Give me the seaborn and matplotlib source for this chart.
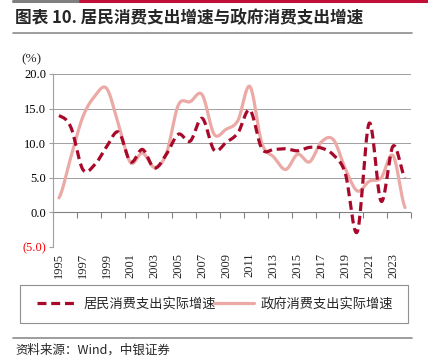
import numpy as np
import pandas as pd
import matplotlib
matplotlib.use("Agg")
import matplotlib.pyplot as plt
import seaborn as sns
from matplotlib.ticker import FixedLocator, FuncFormatter

# chart data
years = list(range(1995, 2025))
household = [14.0, 12.3, 6.2, 6.9, 9.5, 11.6, 7.3, 9.1, 6.4, 8.4,
             11.3, 10.3, 13.6, 9.0, 10.1, 11.5, 14.8, 9.2, 9.1, 9.2,
             8.9, 9.4, 9.3, 8.3, 5.6, -2.8, 12.9, 1.6, 9.6, 5.0]
government = [2.1, 8.0, 13.8, 16.8, 17.9, 12.6, 7.2, 8.6, 6.5, 8.5,
              15.5, 16.0, 17.0, 11.3, 12.0, 13.3, 18.2, 10.0, 8.0, 6.2,
              8.4, 7.3, 10.2, 10.5, 6.3, 3.1, 4.5, 5.0, 8.2, 0.7]
yticks = [-5, 0, 5, 10, 15, 20]
label_hh = "居民消费支出实际增速"
label_gov = "政府消费支出实际增速"

DARK_RED = "#A8092A"
PINK = "#EBAAA6"
GRID = "#A0A0A0"


def smooth(y, steps=20):
    # catmull-rom style curve through the points, like excel's smoothed line
    y = np.asarray(y, dtype=float)
    x = np.arange(len(y), dtype=float)
    yp = np.concatenate([[y[0]], y, [y[-1]]])
    xs, ys = [], []
    for i in range(len(y) - 1):
        p0, p1, p2, p3 = yp[i], yp[i + 1], yp[i + 2], yp[i + 3]
        m1 = (p2 - p0) / 2
        m2 = (p3 - p1) / 2
        t = np.linspace(0, 1, steps, endpoint=False)
        h00 = 2 * t**3 - 3 * t**2 + 1
        h10 = t**3 - 2 * t**2 + t
        h01 = -2 * t**3 + 3 * t**2
        h11 = t**3 - t**2
        xs.append(x[i] + t)
        ys.append(h00 * p1 + h10 * m1 + h01 * p2 + h11 * m2)
    xs.append([x[-1]])
    ys.append([y[-1]])
    return np.concatenate(xs), np.concatenate(ys)


sns.set_theme(style="white")
plt.rcParams["font.family"] = ["Liberation Serif", "Noto Sans CJK SC", "DejaVu Sans"]
plt.rcParams["axes.unicode_minus"] = False

fig = plt.figure(figsize=(4.28, 3.63), dpi=100)
ax = fig.add_axes([53 / 428, 1 - 247 / 363, 358 / 428, 173 / 363])

gx, gy = smooth(government)
hx, hy = smooth(household)
sns.lineplot(x=gx, y=gy, ax=ax, color=PINK, linewidth=2.3, label=label_gov,
             sort=False, zorder=2)
sns.lineplot(x=hx, y=hy, ax=ax, color=DARK_RED, linewidth=2.3, label=label_hh,
             sort=False, zorder=3, linestyle=(0, (2.8, 1.5)))

ax.set_xlim(-0.5, len(years) - 0.5)
ax.set_ylim(-5, 20)

for s in ["top", "right", "bottom"]:
    ax.spines[s].set_visible(False)
ax.spines["left"].set_color(GRID)
ax.spines["left"].set_linewidth(0.8)

# horizontal grid lines
for v in yticks:
    if v != 0:
        ax.axhline(v, color=GRID, linewidth=0.7, zorder=1)
ax.axhline(0, color="#808080", linewidth=0.8, zorder=1)

ax.yaxis.set_major_locator(FixedLocator(yticks))
ax.yaxis.set_major_formatter(FuncFormatter(
    lambda v, p: f"({abs(v):.1f})" if v < 0 else f"{v:.1f}"))
ax.tick_params(axis="y", length=3, color=GRID, width=0.8, pad=2, labelsize=9,
               left=True)
for lab in ax.get_yticklabels():
    lab.set_color("red" if lab.get_text().startswith("(") else "black")

# year labels at the bottom, every other year
lab_idx = list(range(0, len(years), 2))
ax.set_xticks(lab_idx)
ax.set_xticklabels([str(years[i]) for i in lab_idx], rotation=90, fontsize=9)
ax.tick_params(axis="x", length=0, pad=4, bottom=True)

# tick marks on the zero line between categories
sec = ax.secondary_xaxis(5 / 25)
sec.set_xticks([i - 0.5 for i in range(0, len(years) + 1, 2)])
sec.set_xticklabels([])
sec.tick_params(axis="x", direction="out", length=4, color="#808080", width=0.8)
sec.spines["bottom"].set_visible(False)

ax.set_xlabel("")
ax.set_ylabel("")
ax.get_legend().remove()

handles, labels = ax.get_legend_handles_labels()
order = [labels.index(label_hh), labels.index(label_gov)]
leg = fig.legend([handles[i] for i in order], [labels[i] for i in order],
                 loc="center", ncol=2, mode="expand",
                 bbox_to_anchor=(32 / 428, 1 - 323 / 363, 366 / 428, 38 / 363),
                 frameon=True, fancybox=False, edgecolor="#909090",
                 handlelength=3.0, handletextpad=0.5, borderaxespad=0,
                 prop={"family": ["Noto Sans CJK SC"], "size": 9.5})
leg.get_frame().set_linewidth(0.8)
# stretch the frame back out to the full box width
leg.set_bbox_to_anchor((32 / 428, 1 - 323 / 363, 366 / 428, 38 / 363),
                       transform=fig.transFigure)

# title, unit and source
fig.text(15 / 428, 1 - 18 / 363, "图表 10. 居民消费支出增速与政府消费支出增速",
         fontsize=12, fontweight="bold", va="center", ha="left",
         family=["Noto Sans CJK SC"])
fig.text(21 / 428, 1 - 59 / 363, "(%)", fontsize=9.5, va="center", ha="left")
fig.text(15 / 428, 1 - 350 / 363, "资料来源：Wind，中银证券", fontsize=9,
         va="center", ha="left", style="italic",
         family=["Noto Sans CJK SC", "Liberation Serif"])

# decorative rules
fig.add_artist(plt.Line2D([13 / 428, 80 / 428], [1 - 1 / 363] * 2,
                          color="#7F7F7F", linewidth=2.2))
fig.add_artist(plt.Line2D([80 / 428, 1.0], [1 - 1 / 363] * 2,
                          color="#C0103A", linewidth=2.2))
fig.add_artist(plt.Line2D([13 / 428, 412 / 428], [1 - 33 / 363] * 2,
                          color="#8C8C8C", linewidth=1.2))
fig.add_artist(plt.Line2D([13 / 428, 412 / 428], [1 - 338 / 363] * 2,
                          color="#8C8C8C", linewidth=1.2))
# legend box as in the reference (wider than the entries)
fig.add_artist(plt.Rectangle((20 / 428, 1 - 323 / 363), 388 / 428, 38 / 363,
                             fill=False, edgecolor="#909090", linewidth=0.8))
leg.get_frame().set_visible(False)

fig.savefig("out.png", dpi=100)
